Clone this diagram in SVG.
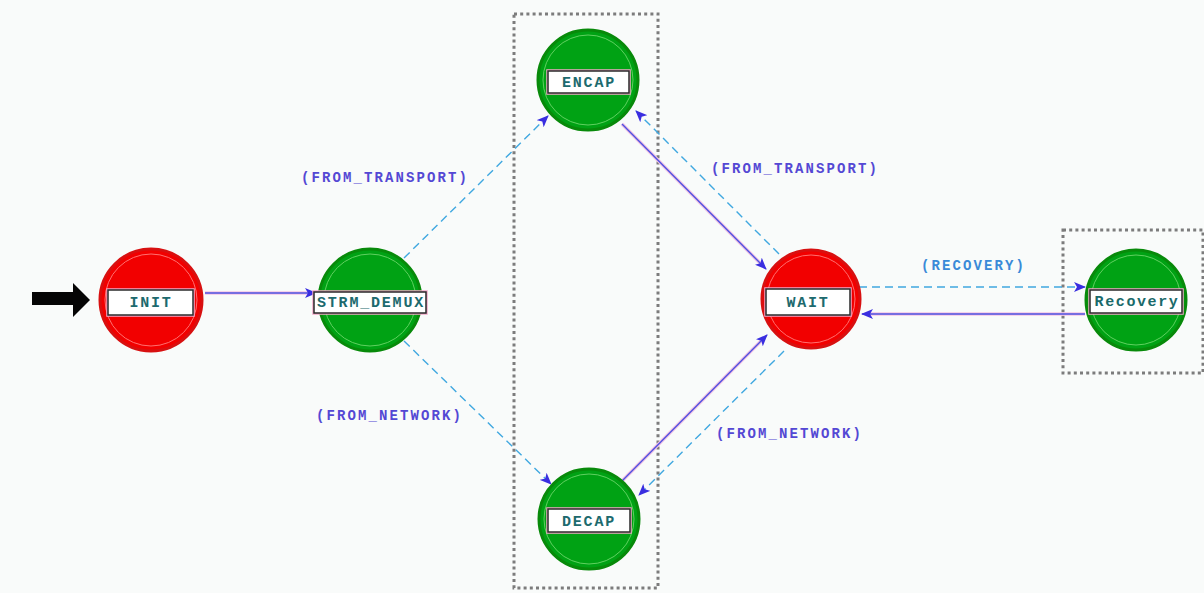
<svg xmlns="http://www.w3.org/2000/svg" width="1204" height="593" viewBox="0 0 1204 593">
  <style>
    .bg { fill: #f9fbfa; }
    .red { fill: #f20000; stroke: #d81010; stroke-width: 3; }
    .red-in { fill: none; stroke: #ff7070; stroke-width: 1; }
    .green { fill: #00a214; stroke: #088a0a; stroke-width: 3; }
    .green-in { fill: none; stroke: #60d060; stroke-width: 1; }
    .lbl { fill: #ffffff; stroke: #2a2a2a; stroke-width: 1.5; }
    .lbl-halo { fill: none; stroke: #f2a8c8; stroke-width: 3.5; }
    .ntxt { font-family: "Liberation Mono", "DejaVu Sans Mono", monospace; font-weight: bold; font-size: 15px; fill: #1d6a6e; text-anchor: middle; letter-spacing: 1.8px; }
    .etxt { font-family: "Liberation Mono", "DejaVu Sans Mono", monospace; font-weight: bold; font-size: 14px; fill: #5448d4; letter-spacing: 2.1px; }
    .etxt2 { fill: #3a8ad8; }
    .solid { fill: none; stroke: #4e52e0; stroke-width: 1.4; }
    .dash { fill: none; stroke: #40a8e0; stroke-width: 1.4; stroke-dasharray: 8 5; }
    .halo { fill: none; stroke: #f4c4e4; stroke-width: 3.5; }
    .frame { fill: none; stroke: #7c7c7c; stroke-width: 3; stroke-dasharray: 3 3.2; }
  </style>
  <defs>
    <marker id="ah" markerWidth="12" markerHeight="10" refX="11" refY="5" orient="auto" markerUnits="userSpaceOnUse">
      <path d="M0,0 L12,5 L0,10 L3,5 Z" fill="#3a2ee0"/>
    </marker>
  </defs>

  <rect class="bg" x="0" y="0" width="1204" height="593"/>

  <!-- grouping frames -->
  <g id="frames">
    <rect class="frame" x="514" y="14" width="144" height="574"/>
    <rect class="frame" x="1063" y="230" width="140" height="143"/>
  </g>

  <!-- connectors -->
  <g id="connectors">
    <g class="halos">
      <line class="halo" x1="205" y1="293" x2="312" y2="293"/>
      <line class="halo" x1="622" y1="124" x2="762" y2="265"/>
      <line class="halo" x1="622" y1="481" x2="763" y2="339"/>
      <line class="halo" x1="1085" y1="314" x2="866" y2="314"/>
    </g>
    <!-- initial entry arrow -->
    <path d="M32,292 L73,292 L73,283 L90,300 L73,317 L73,305 L32,305 Z" fill="#050505"/>

    <line class="solid" x1="205" y1="293" x2="316" y2="293" marker-end="url(#ah)"/>
    <line class="dash" x1="404" y1="258" x2="548" y2="116" marker-end="url(#ah)"/>
    <line class="dash" x1="404" y1="341" x2="551" y2="484" marker-end="url(#ah)"/>
    <line class="solid" x1="622" y1="124" x2="766" y2="269" marker-end="url(#ah)"/>
    <line class="dash" x1="779" y1="254" x2="636" y2="111" marker-end="url(#ah)"/>
    <line class="solid" x1="622" y1="481" x2="767" y2="335" marker-end="url(#ah)"/>
    <line class="dash" x1="784" y1="351" x2="639" y2="495" marker-end="url(#ah)"/>
    <line class="dash" x1="859" y1="287" x2="1085" y2="287" marker-end="url(#ah)"/>
    <line class="solid" x1="1085" y1="314" x2="862" y2="314" marker-end="url(#ah)"/>

    <text class="etxt" x="301" y="182">(FROM_TRANSPORT)</text>
    <text class="etxt" x="711" y="173">(FROM_TRANSPORT)</text>
    <text class="etxt" x="316" y="420">(FROM_NETWORK)</text>
    <text class="etxt" x="716" y="438">(FROM_NETWORK)</text>
    <text class="etxt etxt2" x="921" y="270">(RECOVERY)</text>
  </g>

  <!-- states -->
  <g id="INIT">
    <circle class="red" cx="151" cy="300" r="51"/>
    <circle class="red-in" cx="151" cy="300" r="46"/>
    <rect class="lbl-halo" x="108" y="290" width="85" height="25"/>
    <rect class="lbl" x="108" y="290" width="85" height="25"/>
    <text class="ntxt" x="151" y="307">INIT</text>
  </g>

  <g id="STRM_DEMUX">
    <circle class="green" cx="370" cy="300" r="51"/>
    <circle class="green-in" cx="370" cy="300" r="46"/>
    <rect class="lbl-halo" x="314" y="292" width="112" height="21"/>
    <rect class="lbl" x="314" y="292" width="112" height="21"/>
    <text class="ntxt" x="371" y="307">STRM_DEMUX</text>
  </g>

  <g id="ENCAP">
    <circle class="green" cx="588" cy="80" r="50"/>
    <circle class="green-in" cx="588" cy="80" r="45"/>
    <rect class="lbl-halo" x="548" y="71" width="81" height="22"/>
    <rect class="lbl" x="548" y="71" width="81" height="22"/>
    <text class="ntxt" x="589" y="87">ENCAP</text>
  </g>

  <g id="DECAP">
    <circle class="green" cx="589" cy="519" r="50"/>
    <circle class="green-in" cx="589" cy="519" r="45"/>
    <rect class="lbl-halo" x="548" y="509" width="82" height="23"/>
    <rect class="lbl" x="548" y="509" width="82" height="23"/>
    <text class="ntxt" x="589" y="526">DECAP</text>
  </g>

  <g id="WAIT">
    <circle class="red" cx="811" cy="299" r="49"/>
    <circle class="red-in" cx="811" cy="299" r="44"/>
    <rect class="lbl-halo" x="766" y="289" width="84" height="26"/>
    <rect class="lbl" x="766" y="289" width="84" height="26"/>
    <text class="ntxt" x="808" y="307">WAIT</text>
  </g>

  <g id="Recovery">
    <circle class="green" cx="1136" cy="300" r="50"/>
    <circle class="green-in" cx="1136" cy="300" r="45"/>
    <rect class="lbl-halo" x="1090" y="290" width="92" height="23"/>
    <rect class="lbl" x="1090" y="290" width="92" height="23"/>
    <text class="ntxt" x="1137" y="306" style="fill:#1a6a6a;letter-spacing:1.6px">Recovery</text>
  </g>
</svg>
